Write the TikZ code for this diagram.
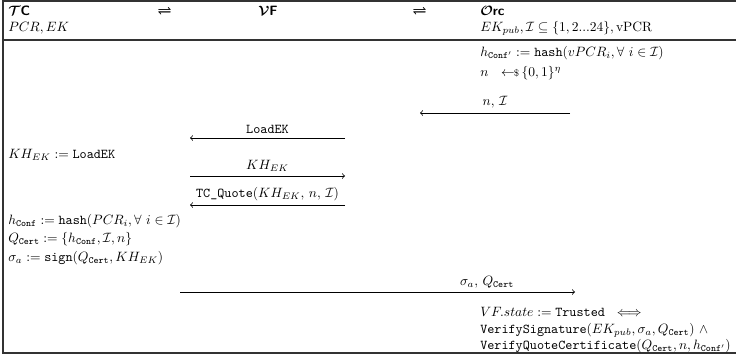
\documentclass[tikz,border=0pt]{standalone}
\usepackage{amsmath,amssymb}
\begin{document}
\begin{tikzpicture}[x=0.74pt,y=-0.74pt,
  txt/.style={anchor=west,inner sep=0pt},
  hd/.style={anchor=center,inner sep=0pt},
  msg/.style={->,line width=0.6pt},
  lbl/.style={anchor=south,inner sep=3pt},
  frame/.style={line width=0.8pt,draw=black!80}]
\useasboundingbox (0,0) rectangle (736,356);
% frame
\coordinate (fTR) at (736,1);
\coordinate (fTL) at (3,1);
\coordinate (fBL) at (3,353);
\coordinate (fBR) at (736,353);
\coordinate (hL) at (3,40);
\coordinate (hR) at (736,40);
\draw[frame] (fTR) -- (fTL) -- (fBL) -- (fBR);
\draw[frame] (hL) -- (hR);
% header
\node[txt] (tc) at (8,11) {{\boldmath$\mathcal{T}$}\textsf{\bfseries C}};
\node[hd] (eq1) at (165,11) {$\pmb{\rightleftharpoons}$};
\node[txt] (vf) at (258,11) {{\boldmath$\mathcal{V}$}\textsf{\bfseries F}};
\node[hd] (eq2) at (420,11) {$\pmb{\rightleftharpoons}$};
\node[txt] (orc) at (480,11) {{\boldmath$\mathcal{O}$}\textsf{\bfseries rc}};
\node[txt] (tcin) at (8,28) {$PCR, EK$};
\node[txt] (orcin) at (480,28) {$EK_{pub}, \mathcal{I} \subseteq \{1,2...24\}, \mathrm{vPCR}$};
% orc computations
\node[txt] (hconfp) at (480,53) {$h_{\texttt{Conf}'} := \texttt{hash}(vPCR_i, \forall\ i \in \mathcal{I})$};
\node[txt] (nonce) at (480,73) {$n\ \ \leftarrow\!\!{\scriptstyle\$}\,\{0,1\}^\eta$};
% message 1
\coordinate (m1s) at (570,113);
\coordinate (m1e) at (420,113);
\draw[msg] (m1s) -- node[lbl] (m1l) {$n,\,\mathcal{I}$} (m1e);
% message 2
\coordinate (m2s) at (345,138);
\coordinate (m2e) at (190,138);
\draw[msg] (m2s) -- node[lbl] (m2l) {\texttt{LoadEK}} (m2e);
\node[txt] (kh) at (8,155) {$KH_{EK} := \texttt{LoadEK}$};
% message 3
\coordinate (m3s) at (190,176);
\coordinate (m3e) at (345,176);
\draw[msg] (m3s) -- node[lbl] (m3l) {$KH_{EK}$} (m3e);
% message 4
\coordinate (m4s) at (345,205);
\coordinate (m4e) at (190,205);
\draw[msg] (m4s) -- node[lbl] (m4l) {\texttt{TC\_Quote}$(KH_{EK},\,n,\,\mathcal{I})$} (m4e);
% tc computations
\node[txt] (hconf) at (8,221) {$h_{\texttt{Conf}} := \texttt{hash}(PCR_i, \forall\ i \in \mathcal{I})$};
\node[txt] (qcert) at (8,239) {$Q_{\texttt{Cert}} := \{h_{\texttt{Conf}}, \mathcal{I}, n\}$};
\node[txt] (sig) at (8,258) {$\sigma_a := \texttt{sign}(Q_{\texttt{Cert}}, KH_{EK})$};
% message 5
\coordinate (m5s) at (180,292);
\coordinate (m5e) at (575,292);
\draw[msg] (m5s) -- (m5e);
\node[lbl] (m5l) at (487,292) {$\sigma_a,\,Q_{\texttt{Cert}}$};
% verification
\node[txt] (st) at (480,312) {$VF.state := \texttt{Trusted}\ \iff$};
\node[txt] (vs) at (480,330) {$\texttt{VerifySignature}(EK_{pub}, \sigma_a, Q_{\texttt{Cert}})\ \wedge$};
\node[txt] (vq) at (480,346) {$\texttt{VerifyQuoteCertificate}(Q_{\texttt{Cert}}, n, h_{\texttt{Conf}'})$};
\end{tikzpicture}
\end{document}
